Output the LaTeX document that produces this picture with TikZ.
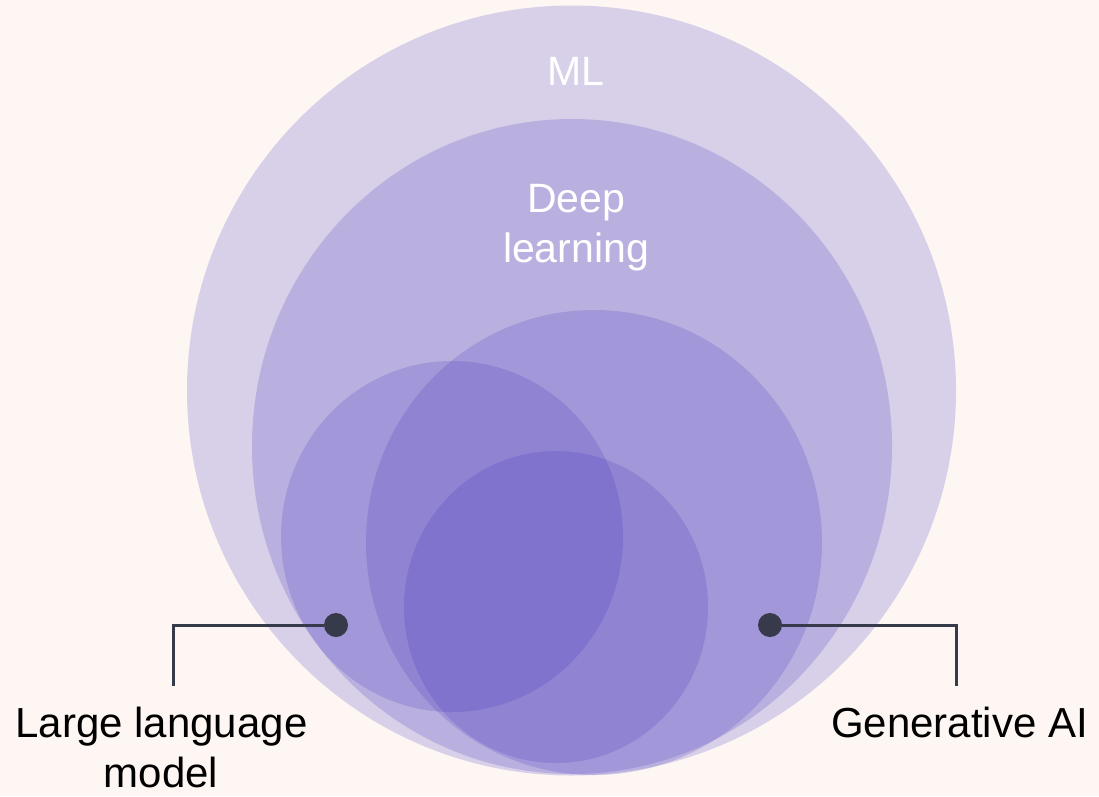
\documentclass[tikz,border=0pt]{standalone}
\usepackage{fontspec}
\setmainfont{Liberation Sans}
\definecolor{bgc}{HTML}{FEF6F3}
\definecolor{setc}{HTML}{4436BC}
\definecolor{linec}{HTML}{363A4A}
\begin{document}
\begin{tikzpicture}[x=1pt,y=-1pt,
  setfill/.style={fill=setc,fill opacity=0.2,draw=none},
  lbl/.style={font=\fontsize{42}{50}\selectfont,text=black,inner sep=0pt,align=center},
  inlbl/.style={font=\fontsize{41}{50}\selectfont,text=white,inner sep=0pt,align=center},
  dotc/.style={circle,fill=linec,minimum size=24pt,inner sep=0pt},
  lead/.style={draw=linec,line width=3pt}]
\fill[bgc] (0,0) rectangle (1099,796);
\useasboundingbox (0,0) rectangle (1099,796);
% sets
\path[setfill] (571.5,390.5) ellipse [x radius=384.5, y radius=385];
\path[setfill] (572,446.5) ellipse [x radius=320, y radius=327.5];
\path[setfill] (594,542.5) ellipse [x radius=228, y radius=232.5];
\path[setfill] (452,536.5) ellipse [x radius=171, y radius=175.5];
\path[setfill] (556,607) ellipse [x radius=152, y radius=156];
% inner labels
\node[inlbl,anchor=base] (ml) at (576,85) {ML};
\node[inlbl,anchor=base] (dl1) at (576,212) {Deep};
\node[inlbl,anchor=base] (dl2) at (576,262) {learning};
% dots and leaders
\node[dotc] (dotL) at (336,625) {};
\node[dotc] (dotR) at (770,625) {};
\coordinate (endL) at (173,686);
\coordinate (endR) at (956,686);
\draw[lead] (dotL.west) -| (endL);
\draw[lead] (dotR.east) -| (endR);
% outer labels
\node[lbl,anchor=base] (llm1) at (161.5,737) {Large language};
\node[lbl,anchor=base] (llm2) at (161,787) {model};
\node[lbl,anchor=base] (gen) at (959.5,737) {Generative AI};
\end{tikzpicture}
\end{document}
